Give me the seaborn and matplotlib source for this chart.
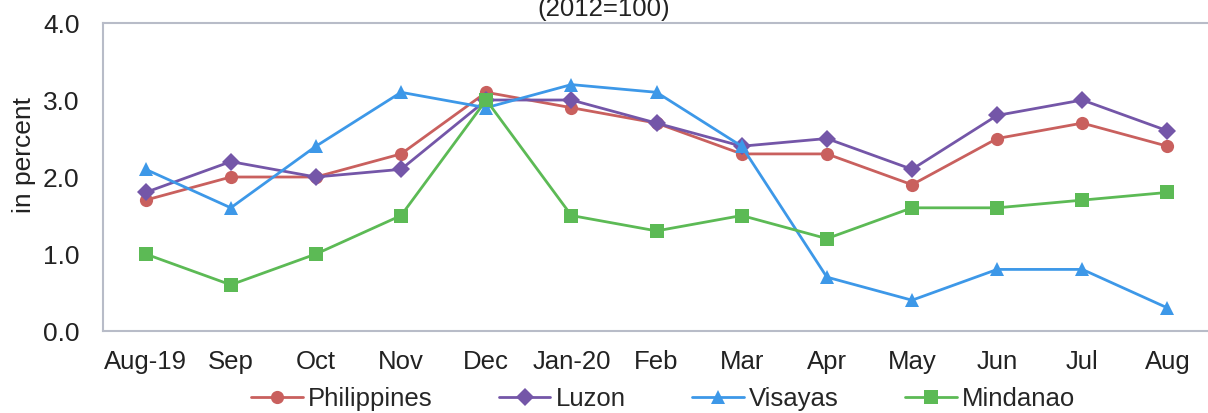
import matplotlib
matplotlib.use("Agg")
import matplotlib.pyplot as plt
import pandas as pd
import seaborn as sns
from matplotlib.ticker import FixedLocator

months = ["Aug-19", "Sep", "Oct", "Nov", "Dec", "Jan-20", "Feb",
          "Mar", "Apr", "May", "Jun", "Jul", "Aug"]
philippines = [1.7, 2.0, 2.0, 2.3, 3.1, 2.9, 2.7, 2.3, 2.3, 1.9, 2.5, 2.7, 2.4]
luzon = [1.8, 2.2, 2.0, 2.1, 3.0, 3.0, 2.7, 2.4, 2.5, 2.1, 2.8, 3.0, 2.6]
visayas = [2.1, 1.6, 2.4, 3.1, 2.9, 3.2, 3.1, 2.4, 0.7, 0.4, 0.8, 0.8, 0.3]
mindanao = [1.0, 0.6, 1.0, 1.5, 3.0, 1.5, 1.3, 1.5, 1.2, 1.6, 1.6, 1.7, 1.8]

regions = ["Philippines", "Luzon", "Visayas", "Mindanao"]
colors = {"Philippines": "#C9605E", "Luzon": "#7456A8",
          "Visayas": "#3D98E8", "Mindanao": "#5CBA55"}
markers = {"Philippines": "o", "Luzon": "D", "Visayas": "^", "Mindanao": "s"}

rows = []
for name, vals in zip(regions, [philippines, luzon, visayas, mindanao]):
    for i, v in enumerate(vals):
        rows.append({"idx": i, "value": v, "region": name})
df = pd.DataFrame(rows)

sns.set_theme(style="white")
plt.rcParams["font.family"] = ["Liberation Sans", "DejaVu Sans"]

fig = plt.figure(figsize=(12.08, 4.13), dpi=100)
ax = fig.add_axes([0.0853, 0.1985, 0.9164, 0.7458])

sns.lineplot(data=df, x="idx", y="value", hue="region", style="region",
             hue_order=regions, style_order=regions, palette=colors,
             markers=markers, dashes=False, markersize=9.5, linewidth=2,
             markeredgewidth=0, ax=ax)

ax.set_xlim(-0.5, 12.5)
ax.set_ylim(0, 4.0)
ax.set_yticks([0, 1, 2, 3, 4])
ax.set_yticklabels(["0.0", "1.0", "2.0", "3.0", "4.0"])
ax.set_xticks(range(len(months)))
ax.set_xticklabels(months)
ax.xaxis.set_minor_locator(FixedLocator([i + 0.5 for i in range(-1, 13)]))
ax.tick_params(axis="x", which="major", length=0, labelsize=18.5, pad=14, colors="#222222")
ax.tick_params(axis="x", which="minor", length=5, direction="out", color="#B8BCC8")
ax.tick_params(axis="y", length=0, labelsize=19, pad=17, colors="#222222")
ax.set_xlabel("")
ax.set_ylabel("in percent", fontsize=19, color="#222222")
ax.yaxis.set_label_coords(-0.061, 0.57)

for side in ["left", "right", "top", "bottom"]:
    ax.spines[side].set_color("#B8BCC8")
    ax.spines[side].set_linewidth(1.5)

# title is clipped by the top edge in the source image
fig.text(0.5, 1 - 16 / 413, "(2012=100)", ha="center", va="baseline",
         fontsize=18.5, color="#222222")

ax.legend(loc="center", bbox_to_anchor=(0.506, -0.22), ncol=4,
          frameon=False, fontsize=18.5, handlelength=2.0, columnspacing=2.6,
          handletextpad=0.2, borderaxespad=0)

fig.savefig("out.png", dpi=100)
